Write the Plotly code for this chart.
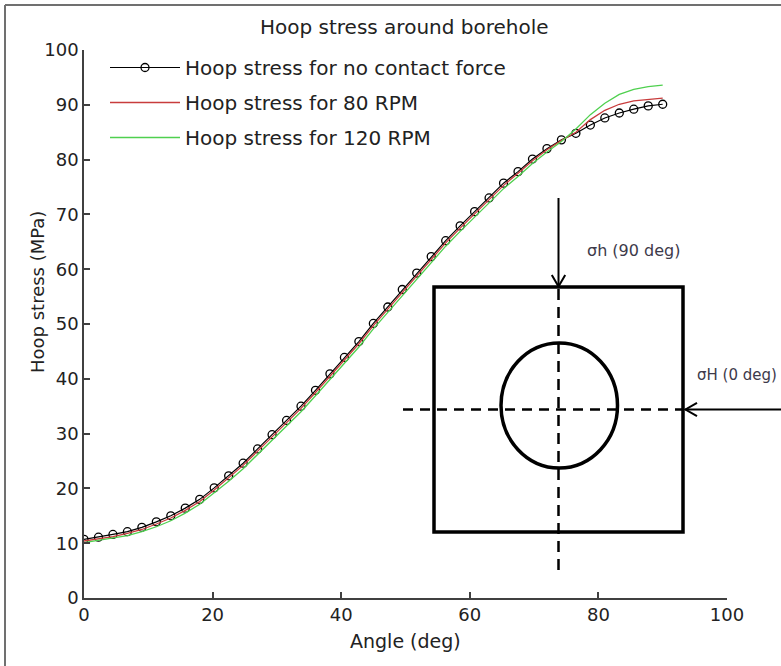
import plotly.graph_objects as go

# Angle around the borehole wall (deg)
angle_deg = [0.0, 2.25, 4.5, 6.75, 9.0, 11.25, 13.5, 15.75, 18.0, 20.25,
             22.5, 24.75, 27.0, 29.25, 31.5, 33.75, 36.0, 38.25, 40.5, 42.75,
             45.0, 47.25, 49.5, 51.75, 54.0, 56.25, 58.5, 60.75, 63.0, 65.25,
             67.5, 69.75, 72.0, 74.25, 76.5, 78.75, 81.0, 83.25, 85.5, 87.75, 90.0]

# Hoop stress (MPa)
hoop_no_contact = [10.7, 11.1, 11.6, 12.1, 12.9, 13.9, 15.0, 16.4, 18.0, 20.1,
                   22.3, 24.6, 27.2, 29.8, 32.4, 35.0, 37.9, 40.9, 43.9, 46.8,
                   50.1, 53.1, 56.3, 59.3, 62.3, 65.2, 67.9, 70.5, 73.0, 75.7,
                   77.8, 80.1, 82.0, 83.6, 84.8, 86.3, 87.6, 88.5, 89.2, 89.8, 90.1]
hoop_80rpm = [10.4, 10.8, 11.2, 11.8, 12.5, 13.5, 14.6, 16.0, 17.6, 19.7,
              21.9, 24.2, 26.8, 29.4, 32.0, 34.6, 37.5, 40.5, 43.5, 46.4,
              49.7, 52.7, 55.9, 58.9, 61.9, 64.8, 67.5, 70.1, 72.6, 75.3,
              77.5, 79.8, 81.8, 83.5, 85.0, 87.3, 89.0, 90.1, 90.7, 91.0, 91.2]
hoop_120rpm = [10.1, 10.5, 10.9, 11.4, 12.1, 13.0, 14.1, 15.5, 17.1, 19.2,
               21.3, 23.6, 26.2, 28.8, 31.4, 34.0, 36.9, 39.9, 42.9, 45.8,
               49.1, 52.1, 55.3, 58.3, 61.3, 64.2, 66.9, 69.5, 72.0, 74.7,
               76.9, 79.3, 81.4, 83.3, 85.6, 88.2, 90.3, 91.9, 92.8, 93.3, 93.6]

series_names = ["Hoop stress for no contact force",
                "Hoop stress for 80 RPM",
                "Hoop stress for 120 RPM"]

x_ticks = [0, 20, 40, 60, 80, 100]
y_ticks = [0, 10, 20, 30, 40, 50, 60, 70, 80, 90, 100]

W, H = 781, 666
ML, MR, MT, MB = 84, 54, 50, 68
PW, PH = W - ML - MR, H - MT - MB

FONT = "DejaVu Sans"
TXT = "#222222"
AX = "#404040"


def px(xp):
    return (xp - ML) / PW


def py(yp):
    return (H - MB - yp) / PH


fig = go.Figure()
fig.add_trace(go.Scatter(
    x=angle_deg, y=hoop_no_contact, name=series_names[0], mode="lines+markers",
    line=dict(color="black", width=1.2),
    marker=dict(symbol="circle-open", size=8, color="black", line=dict(width=1.3)),
    legendgroup="a"))
fig.add_trace(go.Scatter(
    x=angle_deg, y=hoop_80rpm, name=series_names[1], mode="lines",
    line=dict(color="#c83c3c", width=1.3), legendgroup="b"))
fig.add_trace(go.Scatter(
    x=angle_deg, y=hoop_120rpm, name=series_names[2], mode="lines",
    line=dict(color="#4fd04f", width=1.3), legendgroup="c"))

# Borehole sketch (pixel layout converted to paper coordinates)
shapes = []
# outer frame of the figure
shapes.append(dict(type="line", xref="paper", yref="paper",
                   x0=px(5), y0=py(5), x1=px(W + 5), y1=py(5),
                   line=dict(color="#707070", width=2)))
shapes.append(dict(type="line", xref="paper", yref="paper",
                   x0=px(5), y0=py(5), x1=px(5), y1=py(H + 5),
                   line=dict(color="#707070", width=2)))
# rock block
shapes.append(dict(type="rect", xref="paper", yref="paper",
                   x0=px(434), y0=py(287), x1=px(683), y1=py(532),
                   line=dict(color="black", width=3.5)))
# borehole
shapes.append(dict(type="circle", xref="paper", yref="paper",
                   x0=px(501), y0=py(343), x1=px(617.5), y1=py(468),
                   line=dict(color="black", width=3.5)))
# centre lines
shapes.append(dict(type="line", xref="paper", yref="paper",
                   x0=px(558.5), y0=py(289), x1=px(558.5), y1=py(577),
                   line=dict(color="black", width=2.5, dash="11px,7px")))
shapes.append(dict(type="line", xref="paper", yref="paper",
                   x0=px(403), y0=py(409.5), x1=px(683), y1=py(409.5),
                   line=dict(color="black", width=2.5, dash="10px,7px")))
# sigma_h arrow (from top)
shapes.append(dict(type="line", xref="paper", yref="paper",
                   x0=px(558.5), y0=py(198), x1=px(558.5), y1=py(286),
                   line=dict(color="black", width=2)))
shapes.append(dict(type="path", xref="paper", yref="paper",
                   path=f"M {px(551.8)} {py(275)} L {px(558.5)} {py(286.5)} L {px(565.2)} {py(275)}",
                   line=dict(color="black", width=2)))
# sigma_H arrow (from right)
shapes.append(dict(type="line", xref="paper", yref="paper",
                   x0=px(685), y0=py(409.5), x1=px(W + 5), y1=py(409.5),
                   line=dict(color="black", width=2)))
shapes.append(dict(type="path", xref="paper", yref="paper",
                   path=f"M {px(697)} {py(402.8)} L {px(685.5)} {py(409.5)} L {px(697)} {py(416.2)}",
                   line=dict(color="black", width=2)))

annotations = [
    dict(text="Hoop stress around borehole", xref="paper", yref="paper",
         x=px(404), y=py(27), showarrow=False, xanchor="center", yanchor="middle",
         font=dict(family=FONT, size=20, color=TXT)),
    dict(text="Angle (deg)", xref="paper", yref="paper",
         x=px(405), y=py(641), showarrow=False, xanchor="center", yanchor="middle",
         font=dict(family=FONT, size=19, color=TXT)),
    dict(text="Hoop stress (MPa)", xref="paper", yref="paper",
         x=px(37), y=py(292), showarrow=False, textangle=-90,
         xanchor="center", yanchor="middle",
         font=dict(family=FONT, size=18, color=TXT)),
    dict(text="σh (90 deg)", xref="paper", yref="paper",
         x=px(585), y=py(250), showarrow=False, xanchor="left", yanchor="middle",
         font=dict(family=FONT, size=16, color="#3d3a4a")),
    dict(text="σH (0 deg)", xref="paper", yref="paper",
         x=px(779), y=py(375), showarrow=False, xanchor="right", yanchor="middle",
         font=dict(family=FONT, size=15, color="#3d3a4a")),
]

axis_common = dict(
    showgrid=False, zeroline=False, showline=True, linecolor=AX, linewidth=1.5,
    ticks="inside", ticklen=6, tickwidth=1.5, tickcolor=AX, mirror=False,
    tickfont=dict(family=FONT, size=18, color=TXT),
)

fig.update_layout(
    width=W, height=H,
    margin=dict(l=ML, r=MR, t=MT, b=MB, pad=0),
    paper_bgcolor="white", plot_bgcolor="white",
    xaxis=dict(range=[0, 100], tickvals=x_ticks, **axis_common),
    yaxis=dict(range=[0, 100], tickvals=y_ticks, **axis_common),
    showlegend=True,
    legend=dict(x=px(105), y=py(48), xanchor="left", yanchor="top",
                bgcolor="rgba(0,0,0,0)", borderwidth=0,
                font=dict(family=FONT, size=20, color=TXT),
                itemwidth=70, tracegroupgap=6, traceorder="grouped"),
    shapes=shapes,
    annotations=annotations,
)

fig.write_html("out.html")
